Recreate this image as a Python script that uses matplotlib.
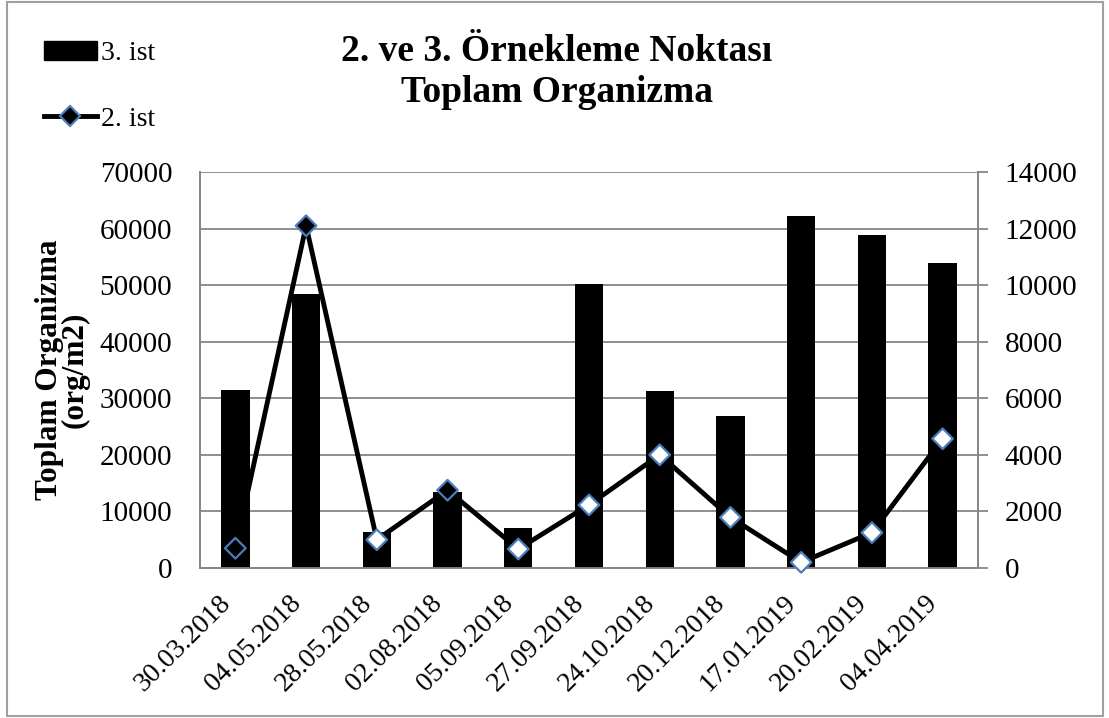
import matplotlib
matplotlib.use("Agg")
import matplotlib.pyplot as plt
from matplotlib.lines import Line2D
from matplotlib.patches import Patch, Rectangle

plt.rcParams['font.family'] = ['Liberation Serif', 'DejaVu Serif']

dates = ['30.03.2018', '04.05.2018', '28.05.2018', '02.08.2018', '05.09.2018',
         '27.09.2018', '24.10.2018', '20.12.2018', '17.01.2019', '20.02.2019',
         '04.04.2019']
ist3 = [31500, 48500, 6400, 13500, 7000, 50200, 31300, 26900, 62200, 58800, 53900]
ist2 = [700, 12100, 1000, 2750, 670, 2230, 4000, 1790, 200, 1250, 4570]
# marker fill per point (some points look filled, most are white)
marker_fill = ['black', 'black', 'white', 'black', 'white', 'white',
               'white', 'white', 'white', 'white', 'white']

grid_col = '#868686'
edge_blue = '#4a7ebb'

fig = plt.figure(figsize=(11.09, 7.18), dpi=100)
ax = fig.add_axes([200/1109, 1 - 568/718, 778/1109, 396/718])
ax2 = ax.twinx()

x = list(range(len(dates)))
ax.bar(x, ist3, width=0.4, color='black', zorder=3)
ax.set_xlim(-0.5, len(dates) - 0.5)
ax.set_ylim(0, 70000)
ax.set_yticks(range(0, 70001, 10000))
ax.yaxis.grid(True, color=grid_col, lw=1.3, zorder=0)
ax.set_axisbelow(True)

ax2.plot(x, ist2, color='black', lw=3.5, zorder=3, clip_on=False)
ax2.scatter(x, ist2, marker='D', s=110, facecolors=marker_fill,
            edgecolors=edge_blue, linewidths=1.6, zorder=4, clip_on=False)
ax2.set_ylim(0, 14000)
ax2.set_yticks(range(0, 14001, 2000))

for a in (ax, ax2):
    a.spines['top'].set_visible(False)
    for s in ('left', 'right', 'bottom'):
        a.spines[s].set_color(grid_col)
        a.spines[s].set_linewidth(1.3)

ax.set_xticks(x)
ax.set_xticklabels(dates, rotation=45, ha='right', fontsize=20)
ax.tick_params(axis='x', length=0, pad=16)
ax.tick_params(axis='y', length=0, pad=20, labelsize=21)
ax2.tick_params(axis='y', length=7, width=1.3, color=grid_col, pad=12, labelsize=21)

ax.set_ylabel('Toplam Organizma\n(org/m2)', fontsize=22.5, fontweight='bold',
              linespacing=0.85, labelpad=7)

fig.text(0.502, 1 - 72/718, '2. ve 3. Örnekleme Noktası\nToplam Organizma',
         ha='center', va='center', fontsize=27, fontweight='bold', linespacing=1.25)

handles = [Patch(facecolor='black', edgecolor='black'),
           Line2D([0], [0], color='black', lw=3.5, marker='D', markersize=10,
                  markerfacecolor='black', markeredgecolor=edge_blue, markeredgewidth=1.6)]
fig.legend(handles, ['3. ist', '2. ist'], loc='upper left',
           bbox_to_anchor=(19/1109, 1 - 16/718), frameon=False, fontsize=20,
           handlelength=1.9, handletextpad=0.15, labelspacing=1.45)

fig.patches.append(Rectangle((7/1109, 2/718), 1096/1109, 714/718,
                             transform=fig.transFigure, fill=False,
                             edgecolor='#a0a0a0', lw=1.5))

fig.savefig('out.png', dpi=100)
